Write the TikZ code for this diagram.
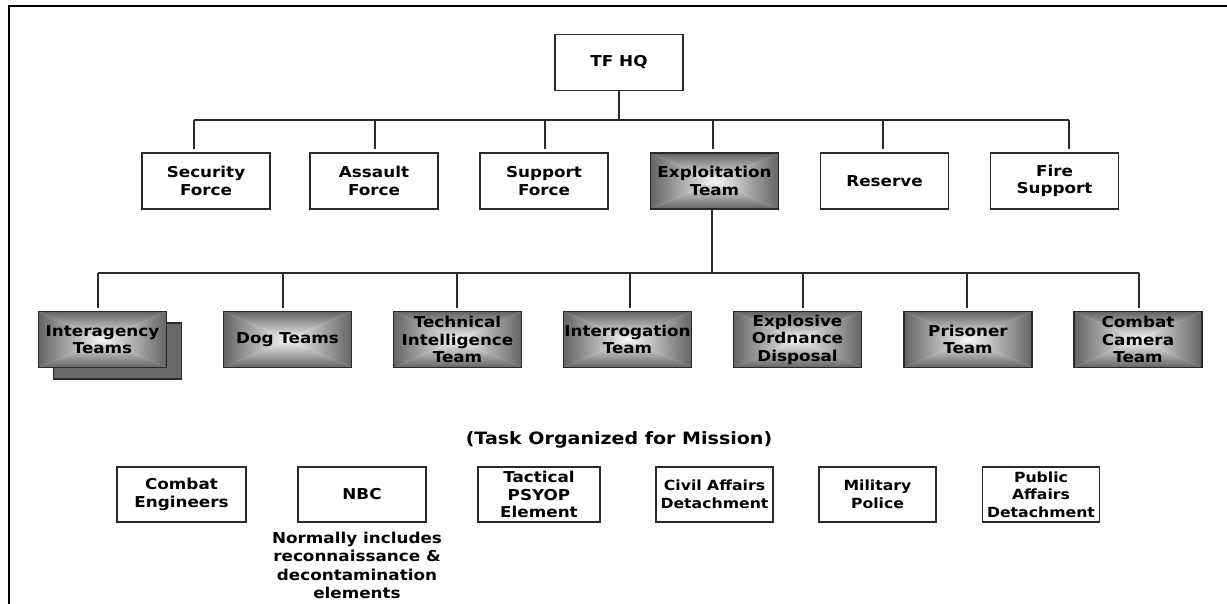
\documentclass[tikz,border=0pt]{standalone}
\usepackage{fontspec}
\setmainfont{DejaVu Sans}[FakeStretch=1.12]
\definecolor{edge}{HTML}{2A2A2A}
\definecolor{shadowgray}{HTML}{686868}
\definecolor{gdark}{HTML}{646464}
\definecolor{glight}{HTML}{F6F6F6}
\tikzset{
  wbox/.style={draw=edge, line width=1.3pt, fill=white, minimum width=128pt, minimum height=56pt,
    inner sep=0pt, align=center, font=\bfseries\fontsize{15}{17.5}\selectfont},
  gbox/.style={wbox, path picture={
      \coordinate (pnw) at (path picture bounding box.north west);
      \coordinate (pne) at (path picture bounding box.north east);
      \coordinate (psw) at (path picture bounding box.south west);
      \coordinate (pse) at (path picture bounding box.south east);
      \coordinate (pc) at (path picture bounding box.center);
      \shade[top color=gdark, bottom color=glight] (pnw) -- (pne) -- (pc) -- cycle;
      \shade[bottom color=gdark, top color=glight] (psw) -- (pse) -- (pc) -- cycle;
      \shade[left color=gdark, right color=glight] (pnw) -- (psw) -- (pc) -- cycle;
      \shade[right color=gdark, left color=glight] (pne) -- (pse) -- (pc) -- cycle;
  }},
  nbox/.style={wbox, minimum width=117pt, minimum height=55pt, font=\bfseries\fontsize{14}{17.5}\selectfont},
  conn/.style={draw=edge, line width=1.3pt},
  drop/.style={conn, shorten >=3pt},
  txt/.style={inner sep=0pt, align=center, font=\bfseries\fontsize{15}{18.5}\selectfont},
}
\begin{document}
\begin{tikzpicture}[x=1pt,y=-1pt]
\useasboundingbox (0,0) rectangle (1227,604);
\fill[white] (0,0) rectangle (1227,604);
% frame
\draw[line width=2.2pt, black] (9,604) -- (9,6) -- (1227,6);

% top
\node[wbox] (hq) at (619,62.5) {TF HQ};

% row 1
\node[wbox] (sec)  at (206,181)   {Security\\Force};
\node[wbox] (asl)  at (374,181)   {Assault\\Force};
\node[wbox] (sup)  at (544,181)   {Support\\Force};
\node[gbox] (exp)  at (714.5,181) {Exploitation\\Team};
\node[wbox] (res)  at (884.5,181) {Reserve};
\node[wbox] (fire) at (1054.5,181) {Fire\\Support};

\coordinate (a1) at (194,120);
\coordinate (a2) at (375,120);
\coordinate (a3) at (545,120);
\coordinate (a4) at (713,120);
\coordinate (a5) at (883,120);
\coordinate (a6) at (1069,120);
\draw[conn] (hq.south) -- (hq.south |- a1);
\draw[conn] (a1) -- (a6);
\draw[drop] (a1) -- (a1 |- sec.north);
\draw[drop] (a2) -- (a2 |- asl.north);
\draw[drop] (a3) -- (a3 |- sup.north);
\draw[drop] (a4) -- (a4 |- exp.north);
\draw[drop] (a5) -- (a5 |- res.north);
\draw[drop] (a6) -- (a6 |- fire.north);

% row 2
\node[wbox, fill=shadowgray] (inters) at (117.5,351) {};
\node[gbox] (inter) at (102.5,339.5) {Interagency\\Teams};
\node[gbox] (dog)   at (287.5,339.5) {Dog Teams};
\node[gbox] (tech)  at (457.5,339.5) {Technical\\Intelligence\\Team};
\node[gbox] (intr)  at (627.5,339.5) {Interrogation\\Team};
\node[gbox] (eod)   at (797.5,339.5) {Explosive\\Ordnance\\Disposal};
\node[gbox] (pris)  at (968,339.5)   {Prisoner\\Team};
\node[gbox] (cam)   at (1138,339.5)  {Combat\\Camera\\Team};

\coordinate (e0) at (712,273);
\coordinate (b1) at (98,273);
\coordinate (b2) at (283,273);
\coordinate (b3) at (457,273);
\coordinate (b4) at (630,273);
\coordinate (b5) at (803,273);
\coordinate (b6) at (967,273);
\coordinate (b7) at (1139,273);
\draw[conn] (e0 |- exp.south) -- (e0);
\draw[conn] (b1) -- (b7);
\draw[drop] (b1) -- (b1 |- inter.north);
\draw[drop] (b2) -- (b2 |- dog.north);
\draw[drop] (b3) -- (b3 |- tech.north);
\draw[drop] (b4) -- (b4 |- intr.north);
\draw[drop] (b5) -- (b5 |- eod.north);
\draw[drop] (b6) -- (b6 |- pris.north);
\draw[drop] (b7) -- (b7 |- cam.north);

% task organized
\node[txt, font=\bfseries\fontsize{17}{20}\selectfont] (task) at (619,440) {(Task Organized for Mission)};

\node[wbox, minimum width=129pt, minimum height=55pt] (ce)  at (181.5,494.5) {Combat\\Engineers};
\node[wbox, minimum height=55pt] (nbc) at (362,494.5) {NBC};
\node[wbox, minimum width=122pt, minimum height=55pt] (psy) at (539,494.5) {Tactical\\PSYOP\\Element};
\node[nbox] (civ) at (714.5,494.5) {Civil Affairs\\Detachment};
\node[nbox] (mp)  at (877.5,494.5) {Military\\Police};
\node[nbox] (pa)  at (1041,494.5)  {Public\\Affairs\\Detachment};

\node[txt] (nbcnote) at (357,565.5) {Normally includes\\reconnaissance \&\\decontamination\\elements};
\end{tikzpicture}
\end{document}
